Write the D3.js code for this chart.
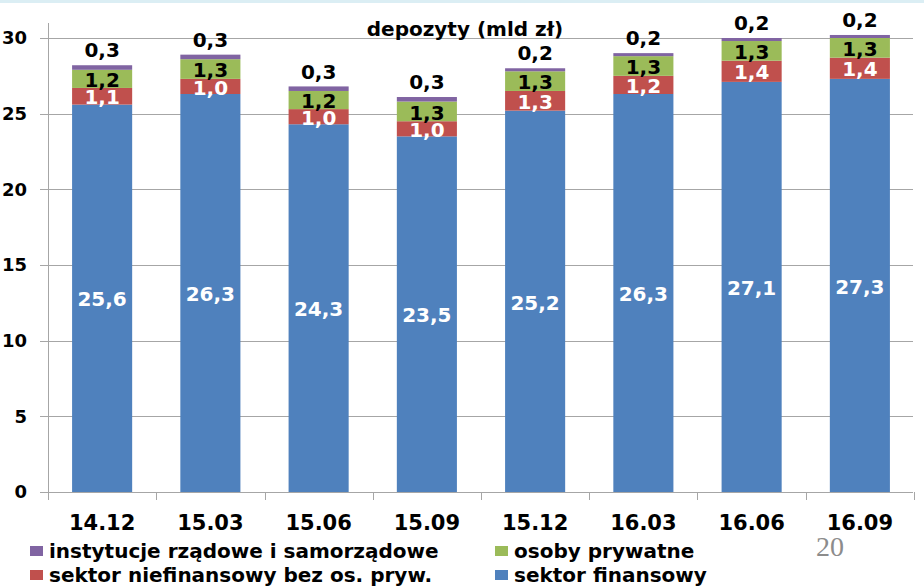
<!DOCTYPE html>
<html>
<head>
<meta charset="utf-8">
<script src="https://cdn.jsdelivr.net/npm/d3@7"></script>
<style>
  body { margin: 0; background: #fff; }
  text { font-family: "DejaVu Sans", Verdana, sans-serif; font-weight: bold; }
</style>
</head>
<body>
<script>
var width = 924
var height = 586

var categories = ["14.12", "15.03", "15.06", "15.09", "15.12", "16.03", "16.06", "16.09"]
var sektorFinansowy = [25.6, 26.3, 24.3, 23.5, 25.2, 26.3, 27.1, 27.3]
var sektorNiefinansowy = [1.1, 1.0, 1.0, 1.0, 1.3, 1.2, 1.4, 1.4]
var osobyPrywatne = [1.2, 1.3, 1.2, 1.3, 1.3, 1.3, 1.3, 1.3]
var instytucje = [0.3, 0.3, 0.3, 0.3, 0.2, 0.2, 0.2, 0.2]
var yTicks = [0, 5, 10, 15, 20, 25, 30]

var seriesDefs = [
    { key: "fin", name: "sektor finansowy", values: sektorFinansowy, color: "#4f81bd", labelColor: "white" },
    { key: "niefin", name: "sektor niefinansowy bez os. pryw.", values: sektorNiefinansowy, color: "#c0504d", labelColor: "white" },
    { key: "osoby", name: "osoby prywatne", values: osobyPrywatne, color: "#9bbb59", labelColor: "black" },
    { key: "inst", name: "instytucje rządowe i samorządowe", values: instytucje, color: "#8064a2", labelColor: "black" }
]

var rows = categories.map(function (c, i) {
    var r = { cat: c }
    seriesDefs.forEach(function (s) { r[s.key] = s.values[i] })
    return r
})

var stack = d3.stack().keys(seriesDefs.map(function (s) { return s.key }))
var stacked = stack(rows)

var x = d3.scaleBand().domain(categories).range([48, 914]).paddingInner(0.445).paddingOuter(0.2225)
var y = d3.scaleLinear().domain([0, 30]).range([492, 38])

var svg = d3.select("body").append("svg")
    .attr("width", width)
    .attr("height", height)

// light strip at top
svg.append("rect").attr("x", 0).attr("y", 0).attr("width", width).attr("height", 3).attr("fill", "#dbeef4")

// gridlines
svg.append("g")
    .selectAll("line")
    .data(yTicks)
    .enter()
    .append("line")
    .attr("x1", 40)
    .attr("x2", 913)
    .attr("y1", function (d) { return Math.round(y(d)) + 0.5 })
    .attr("y2", function (d) { return Math.round(y(d)) + 0.5 })
    .attr("stroke", "#a6a6a6")
    .attr("stroke-width", 1)

// y axis line
svg.append("line")
    .attr("x1", 48.5).attr("x2", 48.5)
    .attr("y1", 23).attr("y2", 492)
    .attr("stroke", "#a6a6a6")

// y tick labels
svg.append("g")
    .selectAll("text")
    .data(yTicks)
    .enter()
    .append("text")
    .attr("x", 27)
    .attr("y", function (d) { return y(d) })
    .attr("dy", "0.36em")
    .attr("text-anchor", "end")
    .attr("font-size", 18)
    .attr("fill", "black")
    .text(function (d) { return d })

// x category ticks
var bandEdges = categories.map(function (c) { return x(c) - x.step() * x.paddingInner() / 2 })
bandEdges.push(914)
svg.append("g")
    .selectAll("line")
    .data(bandEdges)
    .enter()
    .append("line")
    .attr("x1", function (d) { return Math.round(d) + 0.5 })
    .attr("x2", function (d) { return Math.round(d) + 0.5 })
    .attr("y1", 492)
    .attr("y2", 500)
    .attr("stroke", "#a6a6a6")

// bars
var layer = svg.append("g")
    .selectAll("g")
    .data(stacked)
    .enter()
    .append("g")
    .attr("fill", function (d, i) { return seriesDefs[i].color })

layer.selectAll("rect")
    .data(function (d) { return d })
    .enter()
    .append("rect")
    .attr("x", function (d) { return x(d.data.cat) })
    .attr("width", x.bandwidth())
    .attr("y", function (d) { return y(d[1]) })
    .attr("height", function (d) { return y(d[0]) - y(d[1]) })

// value labels
function fmt(v) { return v.toFixed(1).replace(".", ",") }

stacked.forEach(function (s, i) {
    var def = seriesDefs[i]
    svg.append("g")
        .selectAll("text")
        .data(s)
        .enter()
        .append("text")
        .attr("x", function (d) { return x(d.data.cat) + x.bandwidth() / 2 })
        .attr("y", function (d) {
            if (def.key === "inst") return y(d[1]) - 15
            return (y(d[0]) + y(d[1])) / 2 + 1
        })
        .attr("dy", "0.36em")
        .attr("text-anchor", "middle")
        .attr("font-size", 20)
        .attr("fill", def.labelColor)
        .text(function (d) { return fmt(d.data[def.key]) })
})

// x labels
svg.append("g")
    .selectAll("text")
    .data(categories)
    .enter()
    .append("text")
    .attr("x", function (d) { return x(d) + x.bandwidth() / 2 })
    .attr("y", 530)
    .attr("text-anchor", "middle")
    .attr("font-size", 21)
    .attr("fill", "black")
    .text(function (d) { return d })

// title
svg.append("text")
    .attr("x", 465)
    .attr("y", 36)
    .attr("text-anchor", "middle")
    .attr("font-size", 20)
    .attr("fill", "black")
    .text("depozyty (mld zł)")

// legend
var legendItems = [
    { s: seriesDefs[3], x: 30, y: 551 },
    { s: seriesDefs[2], x: 495, y: 551 },
    { s: seriesDefs[1], x: 30, y: 575 },
    { s: seriesDefs[0], x: 495, y: 575 }
]
var legend = svg.append("g")
    .selectAll("g")
    .data(legendItems)
    .enter()
    .append("g")
    .attr("transform", function (d) { return "translate(" + d.x + "," + d.y + ")" })

legend.append("rect")
    .attr("x", 0).attr("y", -5)
    .attr("width", 13).attr("height", 10)
    .attr("fill", function (d) { return d.s.color })

legend.append("text")
    .attr("x", 19)
    .attr("dy", "0.36em")
    .attr("font-size", 20)
    .attr("fill", "black")
    .text(function (d) { return d.s.name })

// page number
svg.append("text")
    .attr("x", 830)
    .attr("y", 556)
    .attr("text-anchor", "middle")
    .style("font-family", "'Liberation Serif', serif")
    .style("font-weight", "normal")
    .attr("font-size", 28)
    .attr("fill", "#8c8c8c")
    .text("20")
</script>
</body>
</html>
